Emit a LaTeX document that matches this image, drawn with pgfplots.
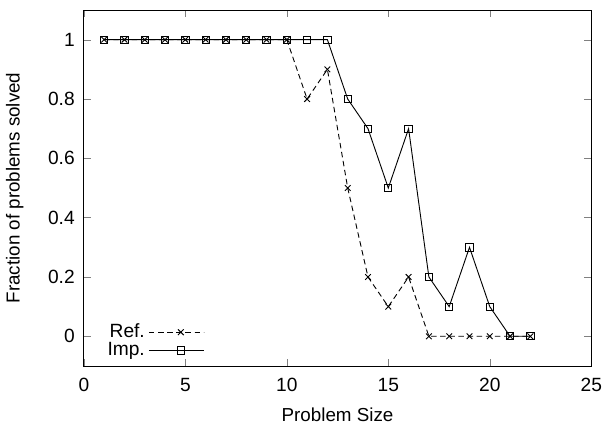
\documentclass[border=0pt]{standalone}
\usepackage{fontspec}
\setmainfont{Liberation Sans}
\usepackage{pgfplots}
\pgfplotsset{compat=1.18}
\begin{document}
\begin{tikzpicture}
\begin{axis}[
  name=ax,
  scale only axis,
  width=278pt, height=195pt,
  xmin=0, xmax=25, ymin=-0.1, ymax=1.1,
  xtick={0,5,10,15,20,25},
  ytick={0,0.2,0.4,0.6,0.8,1},
  yticklabels={0,0.2,0.4,0.6,0.8,1},
  tick align=inside,
  major tick length=4pt,
  xlabel={Problem Size},
  ylabel={Fraction of problems solved},
  /pgf/number format/assume math mode=true,
  tick label style={font=\fontsize{10.5}{12}\selectfont},
  xticklabel style={yshift=-3pt},
  yticklabel style={xshift=-1.5pt},
  label style={font=\fontsize{10.3}{12}\selectfont},
  xlabel style={at={(axis description cs:0.5,-0.137)}, anchor=center},
  ylabel style={at={(axis description cs:-0.136,0.5)}, anchor=center},
  legend style={at={(0.028,0.0)}, anchor=south west, draw=none, fill=none,
    font=\fontsize{10.5}{12}\selectfont, row sep=-3pt},
  legend cell align=right,
  legend plot pos=right,
  legend image code/.code={
    \path (0pt,0pt) -- (30pt,0pt);
    \draw[#1] (5pt,0pt) -- (30pt,0pt);
    \draw[#1, solid] plot coordinates {(17.5pt,0pt)};
  },
]
\addplot[black, densely dashed, line width=0.5pt, mark=x, mark size=2.2pt, mark options={solid}] coordinates {
(1,1) (2,1) (3,1) (4,1) (5,1) (6,1) (7,1) (8,1) (9,1) (10,1)
(11,0.8) (12,0.9) (13,0.5) (14,0.2) (15,0.1) (16,0.2)
(17,0) (18,0) (19,0) (20,0) (21,0) (22,0)
};
\addlegendentry{Ref.}
\addplot[black, solid, line width=0.5pt, mark=square, mark size=2pt] coordinates {
(1,1) (2,1) (3,1) (4,1) (5,1) (6,1) (7,1) (8,1) (9,1) (10,1)
(11,1) (12,1) (13,0.8) (14,0.7) (15,0.5) (16,0.7)
(17,0.2) (18,0.1) (19,0.3) (20,0.1) (21,0) (22,0)
};
\addlegendentry{Imp.}
\end{axis}
\path ([yshift=5.5pt]ax.north);
\end{tikzpicture}
\end{document}
